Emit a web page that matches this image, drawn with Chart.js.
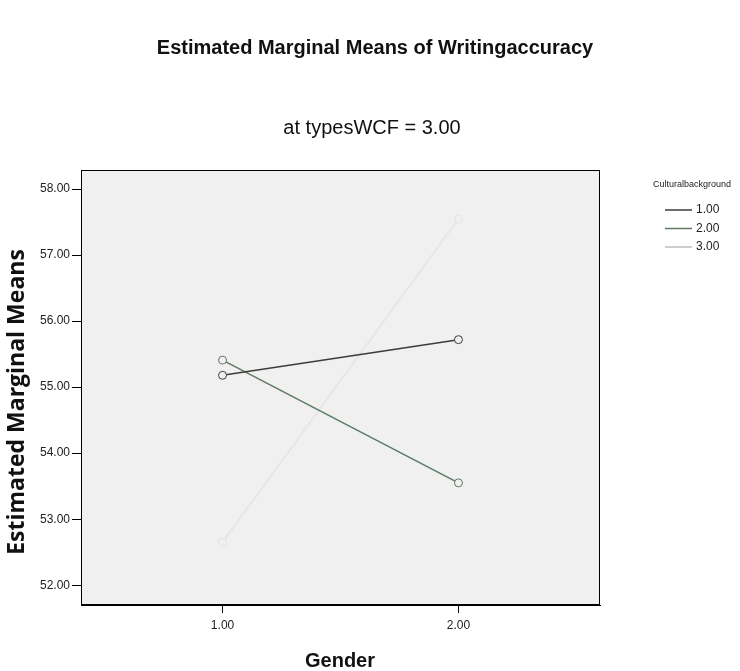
<!DOCTYPE html>
<html>
<head>
<meta charset="utf-8">
<script src="https://cdn.jsdelivr.net/npm/chart.js@4/dist/chart.umd.min.js"></script>
<style>
  html, body { margin: 0; padding: 0; background: #fff; }
  #wrap { position: relative; width: 740px; height: 671px; }
</style>
</head>
<body>
<div id="wrap"><canvas id="chart"></canvas></div>
<script>
// ==============================
// DATA
// ==============================
const genderTicks = [1, 2];
const yTicks = [52, 53, 54, 55, 56, 57, 58];
const groupLabels = ["1.00", "2.00", "3.00"];
const group1 = [55.18, 55.72];
const group2 = [55.41, 53.55];
const group3 = [52.65, 57.55];
const lineColors = ["#3c3c3c", "#5d7a63", "#e4e4e4"];

const titleText = "Estimated Marginal Means of Writingaccuracy";
const subtitleText = "at typesWCF = 3.00";
const yTitleText = "Estimated Marginal Means";
const xTitleText = "Gender";
const legendTitle = "Culturalbackground";

const FONT = "Arial, 'Liberation Sans', sans-serif";

function toPoints(vals) {
  return vals.map((v, i) => ({ x: genderTicks[i], y: v }));
}

// ==============================
// PLOT BACKGROUND, TITLES + LEGEND
// ==============================
const plotFrame = {
  id: "plotFrame",
  beforeDatasetsDraw(chart) {
    const { ctx, chartArea: a } = chart;
    ctx.save();
    ctx.fillStyle = "#f0f0f0";
    ctx.fillRect(a.left, a.top, a.right - a.left, a.bottom - a.top);
    ctx.restore();
  },
  afterDraw(chart) {
    const { ctx, chartArea: a } = chart;
    ctx.save();
    ctx.strokeStyle = "#000";
    ctx.lineWidth = 1;
    ctx.strokeRect(a.left + 0.5, a.top + 0.5, a.right - a.left - 1, a.bottom - a.top - 1);

    // titles
    ctx.fillStyle = "#111";
    ctx.textAlign = "center";
    ctx.textBaseline = "middle";
    ctx.font = "bold 20px " + FONT;
    ctx.fillText(titleText, 375, 48);
    ctx.font = "20px " + FONT;
    ctx.fillText(subtitleText, 372, 128);
    ctx.font = "bold 20px " + FONT;
    ctx.fillText(xTitleText, 340, 661);
    ctx.save();
    ctx.translate(17, 402);
    ctx.rotate(-Math.PI / 2);
    ctx.font = "bold 23px 'Open Sans', " + FONT;
    ctx.fillText(yTitleText, 0, 0);
    ctx.restore();

    // legend on the right
    ctx.fillStyle = "#222";
    ctx.font = "9px " + FONT;
    ctx.textAlign = "left";
    ctx.fillText(legendTitle, 653, 185);
    ctx.font = "12px " + FONT;
    chart.data.datasets.forEach((ds, i) => {
      const y = 210 + i * 18.5;
      ctx.strokeStyle = i === 2 ? "#bdbdbd" : ds.borderColor;
      ctx.lineWidth = 1.5;
      ctx.beginPath();
      ctx.moveTo(665, y);
      ctx.lineTo(692, y);
      ctx.stroke();
      ctx.fillStyle = "#222";
      ctx.fillText(ds.label, 696, y);
    });
    ctx.restore();
  }
};

// ==============================
// CHART
// ==============================
const datasets = [group1, group2, group3].map((vals, i) => ({
  label: groupLabels[i],
  data: toPoints(vals),
  borderColor: lineColors[i],
  backgroundColor: "#f0f0f0",
  borderWidth: 1.5,
  pointRadius: 4,
  pointBorderWidth: 1,
  pointBackgroundColor: "#f0f0f0",
  pointBorderColor: lineColors[i],
  tension: 0
}));

new Chart(document.getElementById("chart"), {
  type: "line",
  data: { datasets },
  plugins: [plotFrame],
  options: {
    responsive: true,
    maintainAspectRatio: false,
    animation: false,
    layout: { padding: { left: 0, right: 140, top: 170, bottom: 0 } },
    plugins: {
      legend: { display: false },
      tooltip: { enabled: false }
    },
    scales: {
      x: {
        type: "linear",
        min: 0.4,
        max: 2.6,
        afterBuildTicks(scale) {
          scale.ticks = genderTicks.map(v => ({ value: v }));
        },
        afterFit(scale) { scale.height = 66; },
        ticks: {
          color: "#222",
          font: { family: FONT, size: 12 },
          padding: 5,
          callback: v => Number(v).toFixed(2)
        },
        grid: { drawOnChartArea: false, color: "#000", tickLength: 8 },
        border: { color: "#000" }
      },
      y: {
        min: 51.7,
        max: 58.29,
        afterBuildTicks(scale) {
          scale.ticks = yTicks.map(v => ({ value: v }));
        },
        afterFit(scale) { scale.width = 81; },
        ticks: {
          color: "#222",
          font: { family: FONT, size: 12 },
          padding: 2,
          callback: v => Number(v).toFixed(2)
        },
        grid: { drawOnChartArea: false, color: "#000", tickLength: 9 },
        border: { color: "#000" }
      }
    }
  }
});
</script>
</body>
</html>
